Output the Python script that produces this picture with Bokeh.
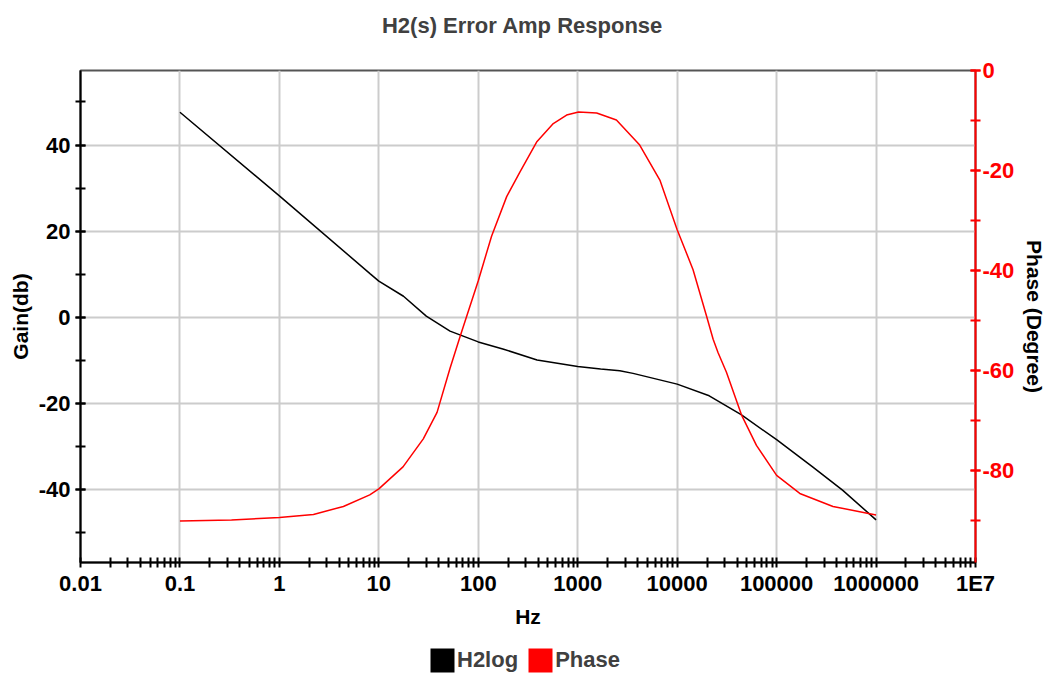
import math
from bokeh.plotting import figure
from bokeh.layouts import column
from bokeh.models import (Range1d, LinearAxis, FixedTicker, SingleIntervalTicker,
                          CustomJSTickFormatter, Legend, LegendItem, Label)
from bokeh.embed import file_html
from bokeh.resources import INLINE

# ---- data ----
gain_freq = [0.1, 1, 8.2, 10, 17.7, 30, 52, 100, 180, 390, 1000, 1700, 2650, 3600,
             10000, 21000, 44000, 100000, 230000, 460000, 1000000]
gain_db = [47.6, 28.2, 10.1, 8.4, 4.9, 0.3, -3.2, -5.7, -7.4, -9.9, -11.4, -12.0,
           -12.4, -13.0, -15.5, -18.2, -22.6, -28.4, -34.7, -40.1, -47.0]

phase_freq = [0.1, 0.33, 1, 2.2, 4.4, 8.1, 10, 17.5, 28, 38.5, 52, 66, 100, 136,
              193, 262, 386, 568, 773, 1020, 1550, 2450, 4200, 6700, 10000, 14450,
              19700, 23000, 25800, 31300, 44300, 62700, 100000, 171000, 369000,
              1000000]
phase_deg = [-90.0, -89.8, -89.3, -88.7, -87.1, -84.8, -83.6, -79.2, -73.6, -68.3,
             -59.5, -53.0, -42.0, -33.1, -25.2, -20.3, -14.3, -10.6, -8.9, -8.3,
             -8.5, -9.9, -14.9, -21.9, -31.8, -39.8, -49.0, -53.7, -56.4, -60.3,
             -68.8, -74.9, -80.9, -84.5, -87.1, -88.8]

x_ticks = [0.01, 0.1, 1, 10, 100, 1000, 10000, 100000, 1000000, 10000000]
x_tick_labels = ["0.01", "0.1", "1", "10", "100", "1000", "10000", "100000",
                 "1000000", "1E7"]
x_minor = [m * 10.0 ** d for d in range(-2, 7) for m in range(2, 10)]

gain_range = (-56.9, 57.3)
phase_range = (-98.3, 0.0)
series_names = ["H2log", "Phase"]
series_colors = ["black", "red"]
title_text = "H2(s) Error Amp Response"

FONT = "Liberation Sans"
NAN = float("nan")
W = 1049

int_fmt = CustomJSTickFormatter(code="return String(Math.round(tick));")


def strip(height):
    f = figure(width=W, height=height, x_range=Range1d(0, 1),
               y_range=Range1d(0, height), output_backend="svg",
               toolbar_location=None, x_axis_location=None, y_axis_location=None,
               min_border=0)
    f.outline_line_color = None
    f.border_fill_color = "white"
    f.background_fill_color = "white"
    f.xgrid.visible = False
    f.ygrid.visible = False
    return f


# ---- title strip ----
tfig = strip(45)
tfig.add_layout(Label(x=0.4939, y=20.5, text=title_text, text_align="center",
                      text_baseline="alphabetic", text_font=FONT,
                      text_font_size="22px", text_font_style="bold",
                      text_color="#404040"))

# ---- main chart ----
p = figure(width=W, height=585, x_axis_type="log",
           x_range=Range1d(0.01, 1e7), y_range=Range1d(*gain_range),
           output_backend="svg", toolbar_location=None,
           min_border_left=80, min_border_right=73, min_border_top=25,
           min_border_bottom=66)
p.extra_y_ranges = {"phase": Range1d(*phase_range)}

p.outline_line_color = "#555555"
p.outline_line_width = 2
p.background_fill_color = "white"
p.border_fill_color = "white"

xa = p.xaxis[0]
xa.ticker = FixedTicker(ticks=x_ticks, minor_ticks=x_minor)
xa.formatter = CustomJSTickFormatter(args=dict(vals=x_ticks, labs=x_tick_labels), code="""
let best = 0, bd = Infinity;
for (let i = 0; i < vals.length; i++) {
  const d = Math.abs(Math.log10(tick) - Math.log10(vals[i]));
  if (d < bd) { bd = d; best = i; }
}
return labs[best];
""")
xa.axis_label = "Hz"

ya = p.yaxis[0]
ya.ticker = SingleIntervalTicker(interval=20, num_minor_ticks=2)
ya.formatter = int_fmt
ya.axis_label = "Gain(db)"

ra = LinearAxis(y_range_name="phase", axis_label="Phase (Degree)",
                ticker=SingleIntervalTicker(interval=20, num_minor_ticks=2),
                formatter=int_fmt)
p.add_layout(ra, "right")

for ax, col in ((xa, "black"), (ya, "black"), (ra, "red")):
    ax.axis_line_color = col
    ax.axis_line_width = 2
    ax.major_tick_line_color = col
    ax.minor_tick_line_color = col
    ax.major_tick_line_width = 2
    ax.minor_tick_line_width = 2
    ax.major_tick_in = 5
    ax.major_tick_out = 5
    ax.minor_tick_in = 5
    ax.minor_tick_out = 5
    ax.major_label_text_font = FONT
    ax.major_label_text_font_size = "22px"
    ax.major_label_text_font_style = "bold"
    ax.major_label_text_color = col
    ax.axis_label_text_font = FONT
    ax.axis_label_text_font_size = "21px"
    ax.axis_label_text_font_style = "bold"
    ax.axis_label_text_color = "black"

xa.major_label_standoff = 3
xa.axis_label_standoff = 6
ya.major_label_standoff = 5
ya.axis_label_standoff = 4
ra.major_label_standoff = 2
ra.axis_label_standoff = 6

p.xgrid.ticker = FixedTicker(ticks=x_ticks)
p.ygrid.ticker = SingleIntervalTicker(interval=20)
for g in (p.xgrid, p.ygrid):
    g.grid_line_color = "#cccccc"
    g.grid_line_width = 2

p.line(gain_freq, gain_db, line_color=series_colors[0], line_width=1.5)
p.line(phase_freq, phase_deg, line_color=series_colors[1], line_width=1.5,
       y_range_name="phase")

# ---- legend strip ----
lg = strip(49)
proxies = [lg.quad(left=[NAN], right=[NAN], top=[NAN], bottom=[NAN],
                   fill_color=c, line_color=None) for c in series_colors]
legend = Legend(items=[LegendItem(label=n, renderers=[r])
                       for n, r in zip(series_names, proxies)],
                orientation="horizontal", location=(347, 4),
                glyph_width=30, glyph_height=30, label_standoff=0, spacing=7,
                padding=0, margin=0, border_line_color=None,
                background_fill_alpha=0,
                label_text_font=FONT, label_text_font_size="22px",
                label_text_font_style="bold", label_text_color="#404040")
lg.add_layout(legend, "center")

open("out.html", "w").write(file_html(column(tfig, p, lg), INLINE))
